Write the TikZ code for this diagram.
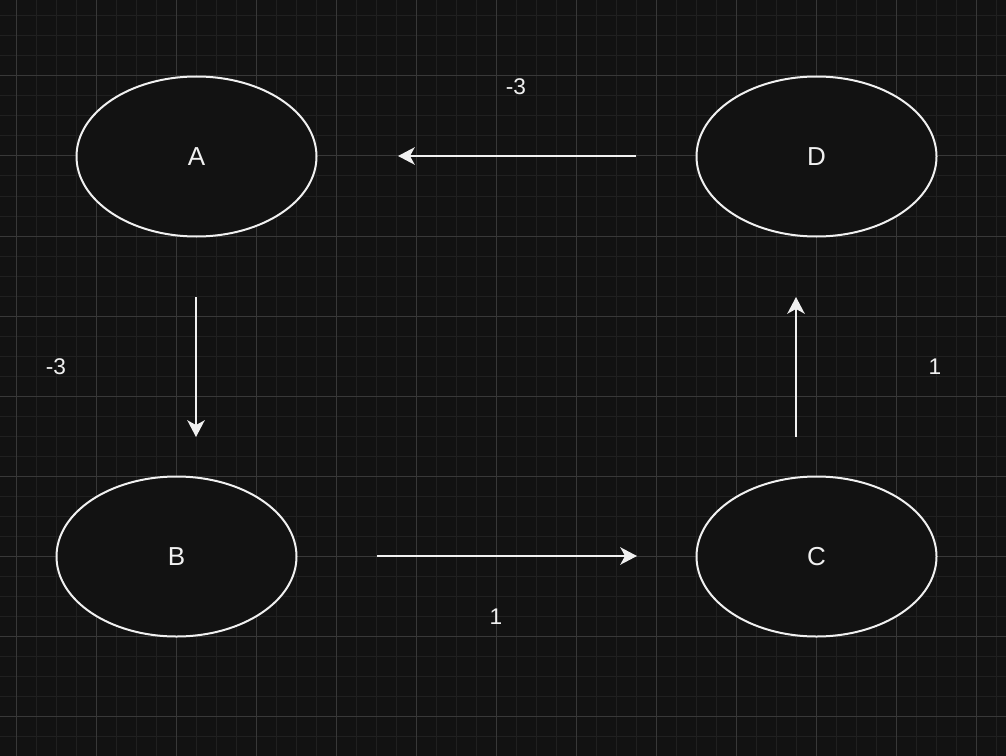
\documentclass[tikz,border=0pt]{standalone}
\usepackage{fontspec}
\setmainfont{Liberation Sans}
\usepackage{tikz}
\usetikzlibrary{shapes.geometric,arrows.meta}

\definecolor{bgdark}{RGB}{18,18,18}
\definecolor{gridminor}{RGB}{32,32,32}
\definecolor{gridmajor}{RGB}{56,56,56}
\definecolor{ink}{RGB}{240,240,240}

\begin{document}
\begin{tikzpicture}[x=0.75pt, y=-0.75pt,
   vertex/.style={ellipse, draw=ink, line width=1.5pt, fill=bgdark, text=ink,
                  minimum width=180pt, minimum height=120pt, inner sep=0pt,
                  font=\fontsize{19.5}{23}\selectfont},
   edge/.style={draw=ink, line width=1.8pt,
                -{Stealth[length=12.5pt, width=13pt, inset=3.5pt]}},
   wlabel/.style={text=ink, font=\fontsize{17}{20}\selectfont, inner sep=0pt}]

   \useasboundingbox[fill=bgdark] (0,0) rectangle (1006,756);

   % grid
   \foreach \x in {16,36,...,996} \draw[gridminor, line width=0.75pt] (\x,0) -- (\x,756);
   \foreach \y in {16,36,...,756} \draw[gridminor, line width=0.75pt] (0,\y) -- (1006,\y);
   \foreach \x in {16,96,...,976} \draw[gridmajor, line width=0.75pt] (\x,0) -- (\x,756);
   \foreach \y in {76,156,...,716} \draw[gridmajor, line width=0.75pt] (0,\y) -- (1006,\y);

   % vertices
   \node[vertex] (A) at (196.5,156.5) {A};
   \node[vertex] (B) at (176.5,556.5) {B};
   \node[vertex] (C) at (816.5,556.5) {C};
   \node[vertex] (D) at (816.5,156.5) {D};

   % free ends of the arrows
   \coordinate (da1) at (636,156);  \coordinate (da2) at (398,156);
   \coordinate (ab1) at (196,297);  \coordinate (ab2) at (196,437);
   \coordinate (bc1) at (377,556);  \coordinate (bc2) at (637,556);
   \coordinate (cd1) at (796,437);  \coordinate (cd2) at (796,297);

   \draw[edge] (da1) -- (da2);
   \draw[edge] (ab1) -- (ab2);
   \draw[edge] (bc1) -- (bc2);
   \draw[edge] (cd1) -- (cd2);

   % weights
   \node[wlabel] (wda) at (516,87) {-3};
   \node[wlabel] (wab) at (56,367) {-3};
   \node[wlabel] (wbc) at (496,617) {1};
   \node[wlabel] (wcd) at (935,367) {1};
\end{tikzpicture}
\end{document}
